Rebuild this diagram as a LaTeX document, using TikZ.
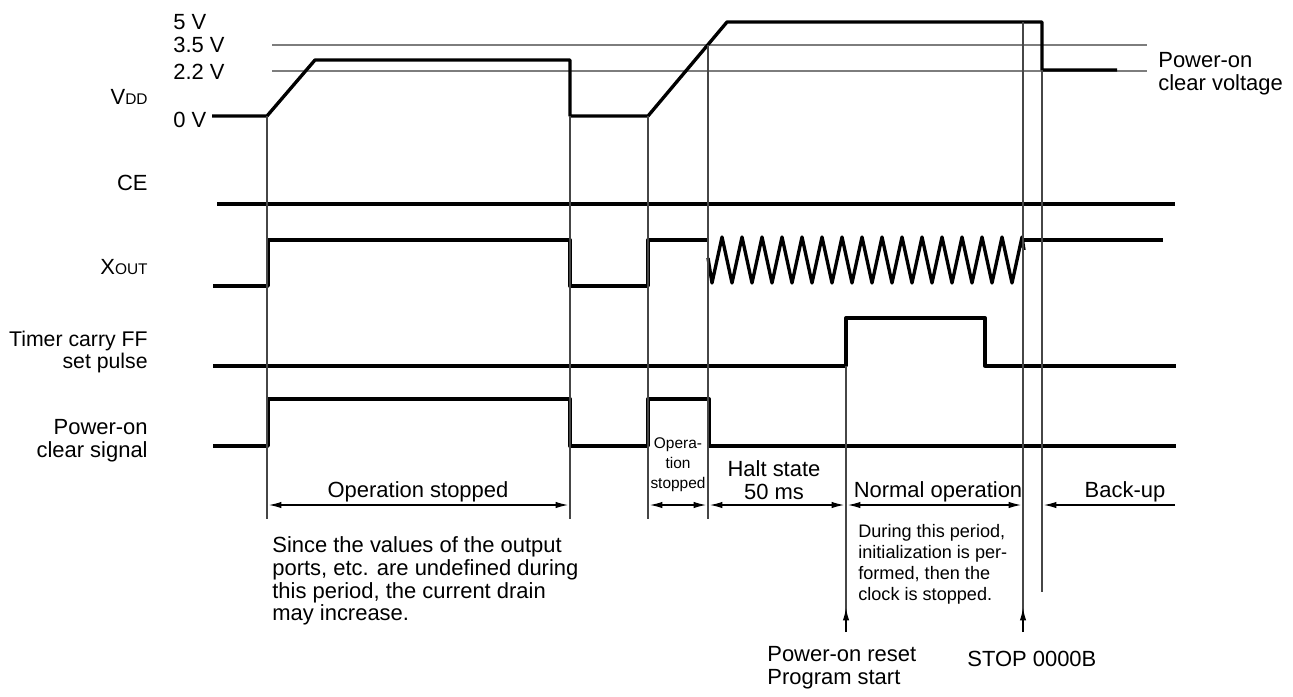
\documentclass[tikz,border=0pt]{standalone}
\usepackage{fontspec}
\setmainfont{Liberation Sans}
\usepackage{xcolor}
\usepackage{tikz}
\usetikzlibrary{arrows.meta, positioning}
\definecolor{WaveBlack}{RGB}{0, 0, 0}
\definecolor{GuideGray}{RGB}{70, 70, 70}
\definecolor{LevelGray}{RGB}{125, 125, 125}

\tikzset{
  >={Latex[length=7pt, width=3.6pt]},
  sig/.style={draw=WaveBlack, line width=1.9pt, line join=round},
  guide/.style={draw=GuideGray, line width=0.6pt},
  level/.style={draw=LevelGray, line width=0.6pt},
  dim/.style={draw=WaveBlack, line width=0.6pt},
  lbl/.style={inner sep=0pt, font=\fontsize{12.5}{13}\selectfont},
  note/.style={inner sep=0pt, align=left, font=\fontsize{10.3}{11.9}\selectfont},
  tiny/.style={inner sep=0pt, align=center, font=\fontsize{8.8}{11.3}\selectfont}
}

\begin{document}
\begin{tikzpicture}[x=0.02cm, y=-0.02cm]
  \useasboundingbox (0,0) rectangle (1293,696);

  % voltage levels
  \draw[level] (272,45) -- (1147,45);
  \draw[level] (272,71) -- (1147,71);
  \node[lbl, anchor=west] (v5) at (173,22) {5 V};
  \node[lbl, anchor=west] (v35) at (173,45) {3.5 V};
  \node[lbl, anchor=west] (v22) at (173,72) {2.2 V};
  \node[lbl, anchor=west] (v0) at (173,120) {0 V};
  \node[lbl, anchor=west, align=left] (pocv) at (1158,74) {Power-on\\clear voltage};

  % signal names
  \node[lbl, anchor=east] (vdd) at (148,97) {V{\fontsize{8.8}{9}\selectfont DD}};
  \node[lbl, anchor=east] (ce) at (148,183) {CE};
  \node[lbl, anchor=east] (xout) at (148,267) {X{\fontsize{8.8}{9}\selectfont OUT}};
  \node[lbl, anchor=east, align=right, font=\fontsize{12.1}{13}\selectfont] (tcff) at (148,352) {Timer carry FF\\set pulse};
  \node[lbl, anchor=east, align=right] (pocs) at (148,441) {Power-on\\clear signal};

  % waveforms
  \draw[sig] (212,116) -- (267,116) -- (315,60) -- (570,60) -- (570,116) -- (648,116)
    -- (727,22) -- (1042,22) -- (1042,70) -- (1117,70);
  \draw[sig] (217,204) -- (1175,204);
  \draw[sig] (213,286) -- (268,286) -- (268,240) -- (570,240) -- (570,286) -- (648,286)
    -- (648,240) -- (708,240);
  \draw[sig] (708,258) -- (712,283)
    \foreach \i in {0,...,14} { -- ({722+20*\i},237) -- ({732+20*\i},283) }
    -- (1022,237) -- (1024,250);
  \draw[sig] (1024,240) -- (1163,240);
  \draw[sig] (213,366) -- (846,366) -- (846,318) -- (985,318) -- (985,366) -- (1176,366);
  \draw[sig] (213,446) -- (268,446) -- (268,399) -- (570,399) -- (570,446) -- (648,446)
    -- (648,399) -- (709,399) -- (709,446) -- (1176,446);

  % time marks
  \draw[guide] (267,116) -- (267,519);
  \draw[guide] (570,116) -- (570,519);
  \draw[guide] (648,116) -- (648,519);
  \draw[guide] (708,45) -- (708,519);
  \draw[guide] (846,366) -- (846,632);
  \draw[guide] (1023,22) -- (1023,632);
  \draw[guide] (1042,70) -- (1042,592);
  \draw[dim, ->] (846,632) -- (846,608);
  \draw[dim, ->] (1023,632) -- (1023,608);

  % periods
  \draw[dim, <->] (269,505) -- (568,505);
  \draw[dim, <->] (650,505) -- (706,505);
  \draw[dim, <->] (710,505) -- (844,505);
  \draw[dim, <->] (848,505) -- (1021,505);
  \draw[dim, ->] (1175,505) -- (1044,505);
  \node[lbl] (ops1) at (418,492) {Operation stopped};
  \node[tiny] (ops2) at (678,465) {Opera-\\tion\\stopped};
  \node[lbl, align=center] (halt) at (774,480) {Halt state\\50 ms};
  \node[lbl] (norm) at (938,492) {Normal operation};
  \node[lbl] (bkup) at (1125,492) {Back-up};

  % notes
  \node[lbl, anchor=west, align=left] (undef) at (272,581)
    {Since the values of the output\\ports, etc. are undefined during\\this period, the current drain\\may increase.};
  \node[note, anchor=west] (init) at (858,564)
    {During this period,\\initialization is per-\\formed, then the\\clock is stopped.};
  \node[lbl, anchor=west, align=left] (rst) at (767,668) {Power-on reset\\Program start};
  \node[lbl, anchor=west] (stop) at (967,659) {STOP 0000B};
\end{tikzpicture}
\end{document}
